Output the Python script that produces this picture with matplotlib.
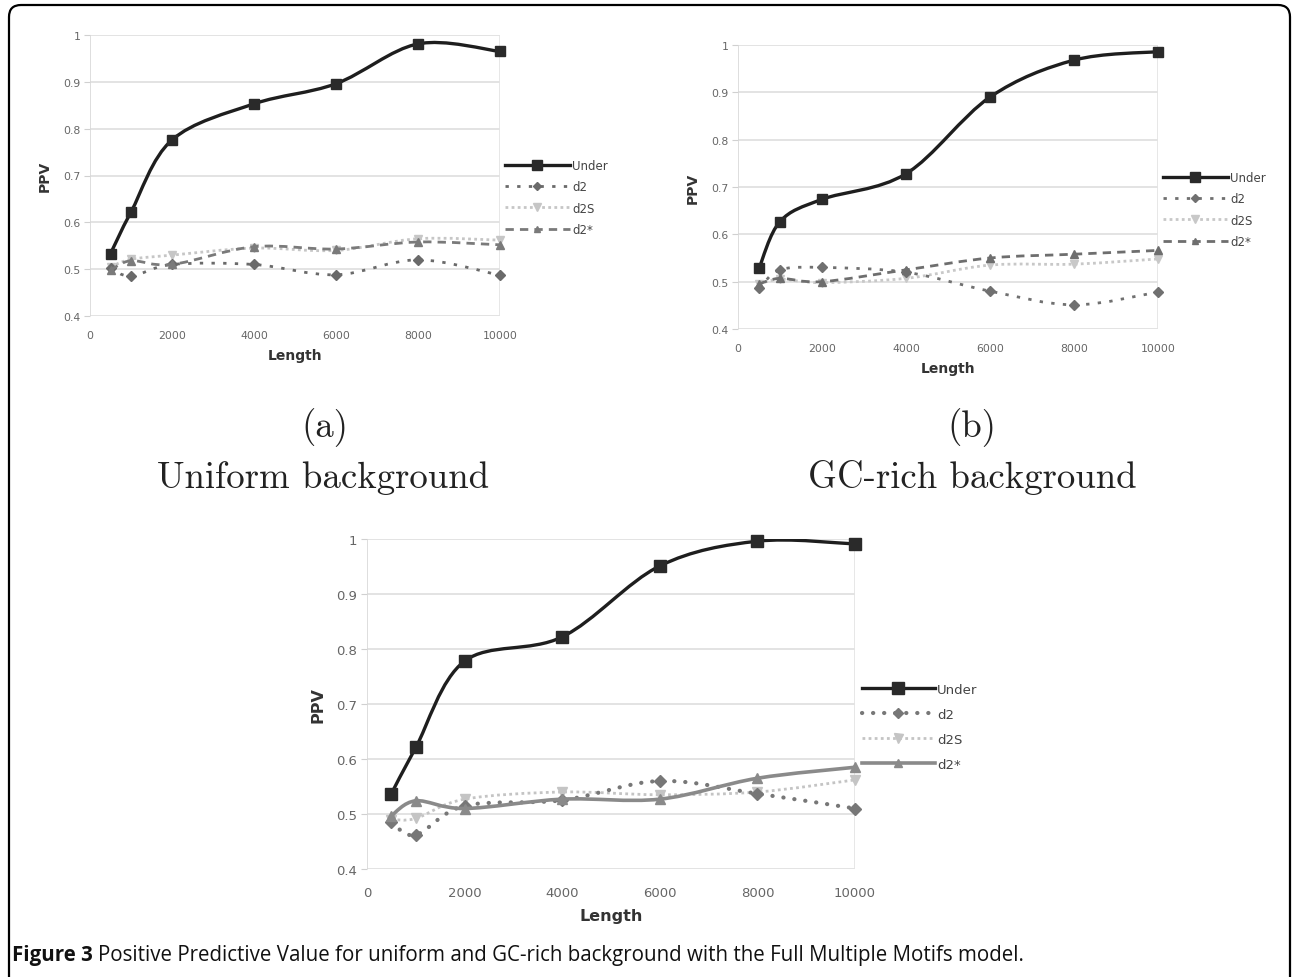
import numpy as np
import matplotlib
matplotlib.use("Agg")
import matplotlib.pyplot as plt
from matplotlib.path import Path
from matplotlib.patches import PathPatch, FancyBboxPatch
from matplotlib.lines import Line2D
from matplotlib.transforms import IdentityTransform

# ---------------- data ----------------
lengths = [500, 1000, 2000, 4000, 6000, 8000, 10000]
series_names = ["Under", "d2", "d2S", "d2*"]

# (a) Uniform background
a_under = [0.533, 0.622, 0.776, 0.853, 0.896, 0.981, 0.965]
a_d2 = [0.503, 0.485, 0.510, 0.510, 0.488, 0.520, 0.487]
a_d2s = [0.505, 0.521, 0.530, 0.545, 0.540, 0.565, 0.562]
a_d2star = [0.498, 0.518, 0.510, 0.548, 0.543, 0.558, 0.552]

# (b) GC-rich background
b_under = [0.528, 0.627, 0.674, 0.728, 0.890, 0.968, 0.986]
b_d2 = [0.486, 0.525, 0.530, 0.520, 0.480, 0.451, 0.478]
b_d2s = [0.495, 0.505, 0.498, 0.507, 0.535, 0.537, 0.548]
b_d2star = [0.495, 0.507, 0.500, 0.525, 0.550, 0.558, 0.566]

# (c) bottom chart
c_under = [0.537, 0.621, 0.778, 0.822, 0.951, 0.996, 0.991]
c_d2 = [0.485, 0.462, 0.515, 0.525, 0.560, 0.537, 0.510]
c_d2s = [0.490, 0.492, 0.527, 0.540, 0.535, 0.540, 0.562]
c_d2star = [0.497, 0.524, 0.510, 0.527, 0.527, 0.565, 0.585]

y_ticks = [0.4, 0.5, 0.6, 0.7, 0.8, 0.9, 1.0]
y_tick_labels = ["0.4", "0.5", "0.6", "0.7", "0.8", "0.9", "1"]
x_ticks = [0, 2000, 4000, 6000, 8000, 10000]
x_tick_labels = ["0", "2000", "4000", "6000", "8000", "10000"]

W, H = 1293, 978
fig = plt.figure(figsize=(W / 100, H / 100), dpi=100)
fig.patch.set_facecolor("white")


def smooth_path(x, y):
    pts = np.column_stack([np.asarray(x, float), np.asarray(y, float)])
    n = len(pts)
    verts = [pts[0]]
    codes = [Path.MOVETO]
    for i in range(n - 1):
        p0 = pts[max(i - 1, 0)]
        p1 = pts[i]
        p2 = pts[i + 1]
        p3 = pts[min(i + 2, n - 1)]
        c1 = p1 + (p2 - p0) / 6.0
        c2 = p2 - (p3 - p1) / 6.0
        verts += [c1, c2, p2]
        codes += [Path.CURVE4] * 3
    return Path(verts, codes)


def px_axes(left, right, top, bottom):
    return fig.add_axes([left / W, 1 - bottom / H, (right - left) / W, (bottom - top) / H])


def draw_chart(ax, data, styles, tick_fs, label_fs, leg_pos, leg_fs, leg_spacing, leg_hl,
               xpad, xlabelpad):
    ax.set_xlim(0, 10000)
    ax.set_ylim(0.4, 1.0)
    for s in ax.spines.values():
        s.set_visible(False)
    ax.axvline(0, color="#d8d8d8", lw=1.2, zorder=1)
    ax.axvline(10000, color="#e3e3e3", lw=1.2, zorder=1)
    ax.set_yticks(y_ticks)
    ax.set_yticklabels(y_tick_labels)
    ax.set_xticks(x_ticks)
    ax.set_xticklabels(x_tick_labels)
    ax.grid(axis="y", color="#e0e0e0", lw=1.3)
    ax.set_axisbelow(True)
    ax.tick_params(axis="y", length=4, color="#d0d0d0", labelsize=tick_fs,
                   labelcolor="#666666", pad=3)
    ax.tick_params(axis="x", length=0, labelsize=tick_fs, labelcolor="#666666", pad=xpad)
    ax.set_ylabel("PPV", fontsize=label_fs, fontweight="bold", color="#333333", labelpad=8)
    ax.set_xlabel("Length", fontsize=label_fs, fontweight="bold", color="#333333",
                  labelpad=xlabelpad)
    handles = []
    for vals, st in zip(data, styles):
        patch = PathPatch(smooth_path(lengths, vals), fill=False, edgecolor=st["color"],
                          lw=st["lw"], linestyle=st["ls"], zorder=st["z"],
                          capstyle=st.get("cap", "butt"))
        ax.add_patch(patch)
        ax.plot(lengths, vals, linestyle="none", marker=st["marker"], ms=st["ms"],
                color=st["mcolor"], zorder=st["z"] + 0.5, clip_on=False)
        handles.append(Line2D([], [], color=st["color"], lw=st["lw"], linestyle=st["ls"],
                              dash_capstyle=st.get("cap", "butt"),
                              marker=st["marker"], ms=st["ms"] * 0.9,
                              markerfacecolor=st["mcolor"], markeredgecolor=st["mcolor"]))
    leg = fig.legend(handles, series_names, loc="upper left",
                     bbox_to_anchor=(leg_pos[0] / W, 1 - leg_pos[1] / H),
                     frameon=False, fontsize=leg_fs, handlelength=leg_hl,
                     handletextpad=0.2, labelspacing=leg_spacing, borderaxespad=0,
                     borderpad=0)
    for t in leg.get_texts():
        t.set_color("#444444")


def make_styles(d2c, d2sc, d2starc, d2star_ls, d2star_lw, ms_scale=1.0, d2_lw=2.0,
                d2_ls=(0, (1.2, 3.0)), d2_cap="butt"):
    return [
        dict(color="#1e1e1e", mcolor="#2a2a2a", lw=2.4, ls="-", marker="s", ms=7.5 * ms_scale, z=6),
        dict(color=d2c, mcolor=d2c, lw=d2_lw, ls=d2_ls, marker="D", ms=5.0 * ms_scale, z=4,
             cap=d2_cap),
        dict(color=d2sc, mcolor=d2sc, lw=2.0, ls=(0, (1.0, 1.2)), marker="v", ms=6.0 * ms_scale, z=3),
        dict(color=d2starc, mcolor=d2starc, lw=d2star_lw, ls=d2star_ls, marker="^", ms=5.5 * ms_scale, z=5),
    ]


# (a)
ax_a = px_axes(90, 500, 36, 317)
draw_chart(ax_a, [a_under, a_d2, a_d2s, a_d2star],
           make_styles("#6a6a6a", "#c6c6c6", "#7a7a7a", (0, (3.0, 2.2)), 2.0),
           tick_fs=7.8, label_fs=10, leg_pos=(505, 160), leg_fs=8.5, leg_spacing=0.7,
           leg_hl=5.5, xpad=10, xlabelpad=6)

# (b)
ax_b = px_axes(738, 1158, 46, 330)
draw_chart(ax_b, [b_under, b_d2, b_d2s, b_d2star],
           make_styles("#707070", "#c8c8c8", "#6e6e6e", (0, (3.0, 2.2)), 2.0),
           tick_fs=7.8, label_fs=10, leg_pos=(1163, 172), leg_fs=8.5, leg_spacing=0.7,
           leg_hl=5.5, xpad=10, xlabelpad=6)

# (c)
ax_c = px_axes(367, 855, 540, 870)
draw_chart(ax_c, [c_under, c_d2, c_d2s, c_d2star],
           make_styles("#777777", "#c4c4c4", "#8a8a8a", "-", 2.6, ms_scale=1.2, d2_lw=3.0,
                       d2_ls=(0, (0.05, 2.6)), d2_cap="round"),
           tick_fs=9.5, label_fs=11.5, leg_pos=(862, 684), leg_fs=9.5, leg_spacing=0.9,
           leg_hl=5.5, xpad=12, xlabelpad=7)

# sub-captions (serif, Computer-Modern-like)
serif = ["cmr10", "DejaVu Serif"]
sub_fs = 26.5
fig.text(325 / W, 1 - 428 / H, "(a)", ha="center", va="center", fontsize=sub_fs,
         family=serif, color="#222222")
fig.text(323 / W, 1 - 478 / H, "Uniform background", ha="center", va="center",
         fontsize=sub_fs, family=serif, color="#222222")
fig.text(972 / W, 1 - 428 / H, "(b)", ha="center", va="center", fontsize=sub_fs,
         family=serif, color="#222222")
fig.text(972 / W, 1 - 478 / H, "GC-rich background", ha="center", va="center",
         fontsize=sub_fs, family=serif, color="#222222")

# caption
cap_fs = 14.8
cap1 = fig.text(12 / W, 1 - 956 / H, "Figure 3", ha="left", va="center", fontsize=cap_fs,
                fontweight="bold", family="Open Sans", color="#111111")
fig.canvas.draw()
bb = cap1.get_window_extent()
fig.text((bb.x1 + 5) / W, 1 - 956 / H,
         "Positive Predictive Value for uniform and GC-rich background with the Full Multiple Motifs model.",
         ha="left", va="center", fontsize=cap_fs, family="Open Sans", color="#111111")

# rounded frame
frame = FancyBboxPatch((9, -40), 1281, 972 + 40,
                       boxstyle="round,pad=0,rounding_size=12",
                       transform=IdentityTransform(), fill=False, edgecolor="black",
                       lw=1.6, zorder=10)
fig.patches.append(frame)

fig.savefig("out.png", dpi=100, facecolor="white")
